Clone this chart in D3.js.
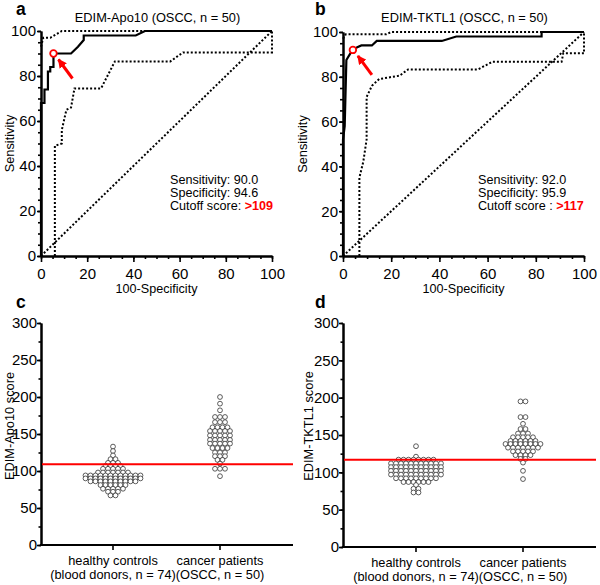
<!DOCTYPE html>
<html><head><meta charset="utf-8">
<script src="https://cdn.jsdelivr.net/npm/d3@7"></script>
<style>
body{margin:0;background:#fff}
svg{display:block}
text{font-family:"Liberation Sans",Arial,Helvetica,sans-serif;fill:#000}
</style>
</head><body>
<svg id="chart" width="600" height="585"></svg>
<script>
// ---------------- DATA ----------------
const rocTicks = [0, 20, 40, 60, 80, 100];
const dotTicks = [0, 50, 100, 150, 200, 250, 300];
const categories = ["healthy controls|(blood donors, n = 74)", "cancer patients|(OSCC, n = 50)"];

// Panel a: EDIM-Apo10 ROC  [100-specificity, sensitivity]
const rocA = [[0,0],[0,68],[1.5,68],[1.5,74],[3,74],[3,82],[4,82],[4,84],[5.4,84],[5.4,90],[13,90],[16,93],[18.5,96],[18.5,98],[41,98],[45,100],[100,100]];
const rocAUpper = [[0,93],[1,97],[4,97],[9,100],[100,100]];
const rocALower = [[6,0],[6,49],[9,50],[9,56],[11,65],[13,66],[14.5,74.5],[26,74.5],[32,86.5],[56,86.5],[61.5,90.5],[100,90.5],[100,100]];
const cutA = [5.4, 90];

// Panel b: EDIM-TKTL1 ROC
const rocB = [[0,0],[0,52],[0.7,58],[1.4,87.5],[2.8,90],[4.1,92],[5.5,93],[7.6,94],[12,94],[14,96],[41,96],[47,98],[82.4,98],[82.4,100],[100,100]];
const rocBUpper = [[0,97],[1.2,99],[18,99],[20,100],[100,100]];
const rocBLower = [[6.8,0],[6.8,35],[8.4,42],[9.8,52],[9.8,71],[12,76],[15,79],[23.5,80.5],[27,83.3],[56,83.3],[62,86.7],[90.7,86.7],[91.4,90.5],[100,90.5],[100,100]];
const cutB = [4.1, 92];

const diagonal = [[0,0],[100,100]];

// Panel c: EDIM-Apo10 scores
const apoHealthy = [133,127,121,116,116,111,111,111,107,107,107,107,103,103,103,103,103,
  98,98,98,98,98,98,98, 94,94,94,94,94,94,94,94,94,94,94,94,
  90,90,90,90,90,90,90,90,90,90,90,90, 86,86,86,86,86,86,86,86,86,86,
  81,81,81,81,81,81, 76,76,76,76,76, 72,72,72, 67,67];
const apoCancer = [200,191,182,173,173,173,166,166,166,159,159,159,159,154,154,154,154,154,
  148,148,148,148,148,142,142,142,142,142,137,137,137,137,137,131,131,131,131,
  125,125,125,120,120,120,115,115,110,103,103,103,93];
const apoCutoff = 109;

// Panel d: EDIM-TKTL1 scores
const tktHealthy = [135,121,117,117,117,117,117,117,117,117,
  112,112,112,112,112,112,112,112,112,112,112,
  107,107,107,107,107,107,107,107,107,107,107,
  102,102,102,102,102,102,102,102,102,102,102,
  97,97,97,97,97,97,97,97,97,97,97, 92,92,92,92,92,92,92,92,92,
  87,87,87,87,87,87, 83, 78,78, 73,73];
const tktCancer = [195,195,174,174,165,158,158,152,152,152,147,147,147,147,147,
  142,142,142,142,142,142,138,138,138,138,138,138,138,138,
  133,133,133,133,133,133,133,128,128,128,128,128,123,123,123,123,118,118,113,102,91];
const tktCutoff = 117;

// ---------------- DRAWING ----------------
const svg = d3.select("#chart");
const RED = "#ff0000";
const FONT = '"Liberation Sans",Arial,sans-serif';

svg.append("defs").append("marker")
  .attr("id","arrowhead").attr("viewBox","0 0 10 10").attr("refX",9).attr("refY",5)
  .attr("markerWidth",3).attr("markerHeight",3).attr("orient","auto")
  .append("path").attr("d","M0,0 L10,5 L0,10 Z").attr("fill",RED);

function styleAxis(g, w) {
  g.select(".domain").attr("stroke","#000").attr("stroke-width",w);
  g.selectAll(".tick line").attr("stroke","#000").attr("stroke-width",1.6);
  g.selectAll(".tick text").attr("font-size",15).attr("fill","#000").attr("font-family",FONT);
}

function txt(parent, x, y, s, size) {
  return parent.append("text").attr("x",x).attr("y",y).attr("font-size",size).attr("font-family",FONT).text(s);
}

function rocPanel(cfg) {
  const x = d3.scaleLinear([0,100],[cfg.x0,cfg.x1]);
  const y = d3.scaleLinear([0,100],[cfg.y0,cfg.y1]);
  const g = svg.append("g");
  const line = d3.line().x(d=>x(d[0])).y(d=>y(d[1]));

  // minor ticks
  g.append("g").attr("transform",`translate(0,${cfg.y0})`)
    .call(d3.axisBottom(x).tickValues(d3.range(0,101,5)).tickSize(3).tickSizeOuter(0).tickFormat(""))
    .call(a=>styleAxis(a,2));
  g.append("g").attr("transform",`translate(${cfg.x0},0)`)
    .call(d3.axisLeft(y).tickValues(d3.range(0,101,5)).tickSize(3).tickSizeOuter(0).tickFormat(""))
    .call(a=>styleAxis(a,2));
  // major ticks
  g.append("g").attr("transform",`translate(0,${cfg.y0})`)
    .call(d3.axisBottom(x).tickValues(rocTicks).tickSize(6).tickPadding(6).tickSizeOuter(0))
    .call(a=>styleAxis(a,2));
  g.append("g").attr("transform",`translate(${cfg.x0},0)`)
    .call(d3.axisLeft(y).tickValues(rocTicks).tickSize(4).tickPadding(1).tickSizeOuter(0))
    .call(a=>styleAxis(a,2));

  [diagonal, cfg.upper, cfg.lower].forEach(d=>{
    g.append("path").attr("d",line(d)).attr("fill","none").attr("stroke","#000")
      .attr("stroke-width",2).attr("stroke-dasharray","2,2");
  });
  g.append("path").attr("d",line(cfg.curve)).attr("fill","none").attr("stroke","#000")
    .attr("stroke-width",2.2);

  // arrow to cutoff point
  const cx = x(cfg.cut[0]), cy = y(cfg.cut[1]);
  g.append("line")
    .attr("x1",cx+cfg.arrow[0]).attr("y1",cy+cfg.arrow[1])
    .attr("x2",cx+cfg.arrow[2]).attr("y2",cy+cfg.arrow[3])
    .attr("stroke",RED).attr("stroke-width",3).attr("marker-end","url(#arrowhead)");
  g.append("circle").attr("cx",cx).attr("cy",cy).attr("r",3.3)
    .attr("fill","#fff").attr("stroke",RED).attr("stroke-width",1.8);

  // titles
  txt(g,(cfg.x0+cfg.x1)/2+1,22,cfg.title,12.8).attr("text-anchor","middle");
  txt(g,cfg.labelX,15,cfg.label,17.5).attr("font-weight","bold");
  txt(g,(cfg.x0+cfg.x1)/2,293,"100-Specificity",12.6).attr("text-anchor","middle");
  g.append("text").attr("transform",`translate(${cfg.yTitleX},${(cfg.y0+cfg.y1)/2}) rotate(-90)`)
    .attr("text-anchor","middle").attr("font-size",12.8).attr("font-family",FONT).text("Sensitivity");

  txt(g,cfg.textX,184,"Sensitivity: " + cfg.sens,12.6);
  txt(g,cfg.textX,197,"Specificity: " + cfg.spec,12.6);
  const c = txt(g,cfg.textX,210,cfg.cutText,12.6);
  c.append("tspan").attr("fill",RED).attr("font-weight","bold").text(cfg.cutVal);
}

function dotPanel(cfg) {
  const y = d3.scaleLinear([0,300],[cfg.y0,cfg.y1]);
  const x = d3.scalePoint(categories,[cfg.c0,cfg.c1]);
  const g = svg.append("g");

  g.append("g").attr("transform",`translate(${cfg.x0},0)`)
    .call(d3.axisLeft(y).tickValues(d3.range(0,301,25)).tickSize(2.5).tickSizeOuter(0).tickFormat(""))
    .call(a=>styleAxis(a,2));
  g.append("g").attr("transform",`translate(${cfg.x0},0)`)
    .call(d3.axisLeft(y).tickValues(dotTicks).tickSize(4).tickPadding(0).tickSizeOuter(0))
    .call(a=>styleAxis(a,2));
  const xa = g.append("g").attr("transform",`translate(0,${cfg.y0})`);
  xa.append("line").attr("x1",cfg.x0-1).attr("x2",cfg.x1).attr("stroke","#000").attr("stroke-width",2);
  categories.forEach(cat=>{
    xa.append("line").attr("x1",x(cat)).attr("x2",x(cat)).attr("y1",0).attr("y2",5)
      .attr("stroke","#000").attr("stroke-width",1.6);
    const parts = cat.split("|");
    txt(xa,x(cat),20,parts[0],12.8).attr("text-anchor","middle");
    txt(xa,x(cat),33.5,parts[1],12.8).attr("text-anchor","middle");
  });

  // dots: rows of equal values, centred on their category
  const r = 2.4, step = 5;
  [cfg.healthy, cfg.cancer].forEach((vals,i)=>{
    const cx = x(categories[i]);
    d3.groups(vals, v=>v).forEach(([v, arr])=>{
      arr.forEach((_,k)=>{
        g.append("circle").attr("cx",cx + (k-(arr.length-1)/2)*step).attr("cy",y(v)).attr("r",r)
          .attr("fill","#fff").attr("stroke","#333").attr("stroke-width",0.8);
      });
    });
  });

  g.append("line").attr("x1",cfg.x0+1).attr("x2",cfg.x1).attr("y1",y(cfg.cutoff)).attr("y2",y(cfg.cutoff))
    .attr("stroke",RED).attr("stroke-width",2);

  txt(g,cfg.labelX,308,cfg.label,17.5).attr("font-weight","bold");
  g.append("text").attr("transform",`translate(${cfg.yTitleX},426) rotate(-90)`)
    .attr("text-anchor","middle").attr("font-size",12.8).attr("font-family",FONT).text(cfg.yTitle);
}

rocPanel({x0:41,x1:272,y0:256,y1:31,curve:rocA,upper:rocAUpper,lower:rocALower,cut:cutA,
  arrow:[19,25,5,6],title:"EDIM-Apo10 (OSCC, n = 50)",label:"a",labelX:16,yTitleX:14,
  textX:170,sens:"90.0",spec:"94.6",cutText:"Cutoff score: ",cutVal:">109"});
rocPanel({x0:343,x1:584,y0:256,y1:32,curve:rocB,upper:rocBUpper,lower:rocBLower,cut:cutB,
  arrow:[19,25,5,6],title:"EDIM-TKTL1 (OSCC, n = 50)",label:"b",labelX:315,yTitleX:307,
  textX:478,sens:"92.0",spec:"95.9",cutText:"Cutoff score : ",cutVal:">117"});

dotPanel({x0:41,x1:293,y0:545,y1:323,c0:113,c1:220,healthy:apoHealthy,cancer:apoCancer,cutoff:apoCutoff,
  label:"c",labelX:16,yTitleX:14,yTitle:"EDIM-Apo10 score"});
dotPanel({x0:343,x1:596,y0:547,y1:323,c0:416,c1:523,healthy:tktHealthy,cancer:tktCancer,cutoff:tktCutoff,
  label:"d",labelX:315,yTitleX:313,yTitle:"EDIM-TKTL1 score"});
</script>
</body></html>
